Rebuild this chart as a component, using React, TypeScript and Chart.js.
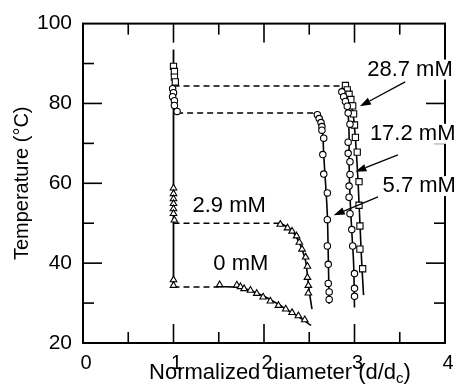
import React, { useEffect, useRef } from "react";
import { Chart, registerables } from "chart.js";
Chart.register(...registerables);

// ---------- data ----------
const seriesNames = ["0 mM", "2.9 mM", "5.7 mM", "17.2 mM", "28.7 mM"];

// 0 mM (triangles)
const s0X = [1.0, 1.0, 1.51, 1.70, 1.74, 1.78, 1.85, 1.92, 1.99, 2.07, 2.16, 2.24, 2.31, 2.38, 2.45];
const s0Y = [35.8, 34.4, 34.6, 34.5, 34.1, 33.6, 33.2, 32.4, 31.5, 30.5, 29.4, 28.5, 27.6, 26.8, 25.8];
const fit0X = [1.5, 1.7, 1.8, 1.9, 2.0, 2.1, 2.2, 2.3, 2.4, 2.52];
const fit0Y = [34.1, 34.0, 33.5, 32.7, 31.7, 30.5, 29.1, 27.7, 26.3, 24.4];

// 2.9 mM (triangles)
const s29X = [1.0, 1.0, 1.0, 1.0, 1.0, 1.0, 1.01, 2.18, 2.26, 2.31, 2.36, 2.39, 2.42, 2.46, 2.48, 2.48, 2.49, 2.49];
const s29Y = [58.8, 57.4, 56.1, 54.9, 53.6, 52.4, 50.8, 49.7, 48.8, 48.0, 46.8, 45.2, 43.5, 41.5, 39.2, 36.4, 34.4, 32.5];
const fit29X = [2.18, 2.26, 2.32, 2.37, 2.42, 2.46, 2.48, 2.5, 2.53];
const fit29Y = [50.0, 49.0, 47.8, 46.0, 43.5, 40.5, 37.0, 33.0, 28.5];

// 5.7 mM (circles)
const s57X = [0.99, 1.0, 0.99, 1.01, 1.01, 1.04, 2.59, 2.61, 2.63, 2.64, 2.64, 2.66, 2.65, 2.66, 2.70, 2.70, 2.70, 2.71, 2.71, 2.72, 2.72];
const s57Y = [83.7, 82.7, 81.7, 80.7, 79.5, 78.0, 77.2, 76.2, 75.2, 74.2, 73.3, 71.3, 67.2, 62.3, 57.6, 50.9, 44.3, 39.7, 34.9, 32.8, 30.9];
const fit57X = [2.55, 2.6, 2.63, 2.65, 2.66, 2.68, 2.7, 2.71, 2.72];
const fit57Y = [77.6, 76.8, 75.0, 72.0, 67.0, 60.0, 52.0, 42.0, 29.8];

// 17.2 mM (circles)
const s172X = [2.86, 2.88, 2.90, 2.92, 2.93, 2.95, 2.93, 2.93, 2.95, 2.95, 2.94, 2.94, 2.95, 2.97, 2.98, 3.0, 3.0, 3.0];
const s172Y = [82.9, 81.7, 80.5, 79.3, 77.6, 74.8, 70.3, 67.5, 65.4, 62.2, 59.3, 56.5, 52.4, 48.4, 44.3, 37.4, 33.7, 31.7];
const fit172X = [2.86, 2.9, 2.93, 2.94, 2.94, 2.95, 2.97, 2.99, 3.0];
const fit172Y = [84.0, 80.8, 77.0, 72.0, 65.0, 57.0, 48.0, 40.0, 28.9];

// 28.7 mM (squares)
const s287X = [1.0, 1.01, 1.01, 1.02, 2.90, 2.92, 2.94, 2.96, 2.98, 2.99, 3.0, 3.01, 3.03, 3.05, 3.05, 3.06, 3.06, 3.09];
const s287Y = [89.3, 88.0, 86.6, 85.4, 84.5, 83.4, 82.3, 81.0, 79.4, 77.4, 74.6, 71.5, 67.8, 60.4, 54.5, 49.3, 43.5, 38.6];
const fit287X = [2.9, 2.94, 2.98, 3.0, 3.02, 3.04, 3.06, 3.08, 3.1];
const fit287Y = [84.5, 82.0, 78.0, 74.0, 68.0, 60.0, 50.0, 40.0, 32.0];

// vertical line at d/dc = 1
const vertX = [1.0, 1.0];
const vertY = [93.5, 34.0];

// dashed horizontal jumps
const dashY = [84.4, 77.6, 50.0, 34.0];
const dashX0 = [1.0, 1.04, 1.0, 1.0];
const dashX1 = [2.89, 2.57, 2.18, 1.5];

// axis ticks
const xMajor = [1, 2, 3];
const xMinor = [0.5, 1.5, 2.5, 3.5];
const yMajor = [40, 60, 80];
const yMinor = [30, 50, 70, 90];

// annotation labels (data coords of left/middle anchor)
const labelText = ["28.7 mM", "17.2 mM", "5.7 mM", "2.9 mM", "0 mM"];
const labelX = [3.14, 3.17, 3.31, 1.21, 1.44];
const labelY = [88.5, 72.4, 59.3, 54.4, 39.8];

// arrows (from -> to, data coords)
const arrowX0 = [3.56, 3.48, 3.26];
const arrowY0 = [85.4, 67.1, 56.6];
const arrowX1 = [3.06, 3.01, 2.77];
const arrowY1 = [79.3, 62.9, 52.0];

const FONT = '"Liberation Sans", Arial, Helvetica, sans-serif';

const zip = (xs: number[], ys: number[]) => xs.map((x, i) => ({ x, y: ys[i] }));

const decorPlugin = {
  id: "decor",
  afterDraw(chart: any) {
    const { ctx, chartArea: a, scales } = chart;
    const x = scales.x;
    const y = scales.y;
    const line = (x0: number, y0: number, x1: number, y1: number) => {
      ctx.beginPath();
      ctx.moveTo(x0, y0);
      ctx.lineTo(x1, y1);
      ctx.stroke();
    };
    ctx.save();
    ctx.strokeStyle = "#000";
    ctx.fillStyle = "#000";
    // frame
    ctx.lineWidth = 2;
    ctx.strokeRect(a.left, a.top, a.right - a.left, a.bottom - a.top);
    // inward ticks
    ctx.lineWidth = 1.6;
    const MAJ = 19;
    const MIN = 11;
    xMajor.forEach((v) => {
      const p = x.getPixelForValue(v);
      line(p, a.bottom, p, a.bottom - MAJ);
      line(p, a.top, p, a.top + MAJ);
    });
    xMinor.forEach((v) => {
      const p = x.getPixelForValue(v);
      line(p, a.bottom, p, a.bottom - MIN);
      line(p, a.top, p, a.top + MIN);
    });
    yMajor.forEach((v) => {
      const p = y.getPixelForValue(v);
      line(a.left, p, a.left + MAJ, p);
      line(a.right, p, a.right - MAJ, p);
    });
    yMinor.forEach((v) => {
      const p = y.getPixelForValue(v);
      line(a.left, p, a.left + MIN, p);
      line(a.right, p, a.right - MIN, p);
    });

    // annotation labels with white backing (frame is broken behind them)
    ctx.font = `22px ${FONT}`;
    ctx.textAlign = "left";
    ctx.textBaseline = "middle";
    labelText.forEach((t, i) => {
      const px = x.getPixelForValue(labelX[i]);
      const py = y.getPixelForValue(labelY[i]);
      const w = ctx.measureText(t).width;
      ctx.fillStyle = "#fff";
      ctx.fillRect(px - 2, py - 10, w + 4, 20);
      ctx.fillStyle = "#000";
      ctx.fillText(t, px, py);
    });

    // arrows
    ctx.lineWidth = 1.3;
    arrowX0.forEach((_, i) => {
      const x0 = x.getPixelForValue(arrowX0[i]);
      const y0 = y.getPixelForValue(arrowY0[i]);
      const x1 = x.getPixelForValue(arrowX1[i]);
      const y1 = y.getPixelForValue(arrowY1[i]);
      const ang = Math.atan2(y1 - y0, x1 - x0);
      const L = 11;
      const W = 3.8;
      const bx = x1 - L * Math.cos(ang);
      const by = y1 - L * Math.sin(ang);
      line(x0, y0, bx, by);
      ctx.beginPath();
      ctx.moveTo(x1, y1);
      ctx.lineTo(bx + W * Math.sin(ang), by - W * Math.cos(ang));
      ctx.lineTo(bx - W * Math.sin(ang), by + W * Math.cos(ang));
      ctx.closePath();
      ctx.fill();
    });

    // x title with subscript
    const main = "Normalized diameter (d/d";
    ctx.font = `22px ${FONT}`;
    const w1 = ctx.measureText(main).width;
    ctx.font = `15px ${FONT}`;
    const w2 = ctx.measureText("c").width;
    ctx.font = `22px ${FONT}`;
    const w3 = ctx.measureText(")").width;
    const total = w1 + w2 + w3;
    const cx = 280;
    const base = 379;
    let sx = cx - total / 2;
    ctx.textAlign = "left";
    ctx.textBaseline = "alphabetic";
    ctx.fillText(main, sx, base);
    sx += w1;
    ctx.font = `15px ${FONT}`;
    ctx.fillText("c", sx, base + 4);
    sx += w2;
    ctx.font = `22px ${FONT}`;
    ctx.fillText(")", sx, base);

    // y title
    ctx.save();
    ctx.translate(22, (a.top + a.bottom) / 2);
    ctx.rotate(-Math.PI / 2);
    ctx.font = `20px ${FONT}`;
    ctx.textAlign = "center";
    ctx.textBaseline = "middle";
    ctx.fillText("Temperature (\u00B0C)", 0, 0);
    ctx.restore();

    ctx.restore();
  },
};

export default function App() {
  const ref = useRef<HTMLCanvasElement | null>(null);
  useEffect(() => {
    document.body.style.margin = "0";
    if (!ref.current) return;
    const fitStyle = {
      showLine: true,
      borderColor: "#000",
      borderWidth: 1.6,
      pointRadius: 0,
      tension: 0.35,
      order: 2,
    };
    const ptStyle = (style: string, r: number) => ({
      showLine: false,
      pointStyle: style,
      pointRadius: r,
      pointBackgroundColor: "#fff",
      pointBorderColor: "#000",
      pointBorderWidth: 1.1,
      order: 0,
    });
    const datasets: any[] = [
      { label: "vertical", data: zip(vertX, vertY), showLine: true, borderColor: "#000", borderWidth: 1.8, pointRadius: 0, order: 3 },
      ...dashY.map((v, i) => ({
        label: "dash" + i,
        data: [
          { x: dashX0[i], y: v },
          { x: dashX1[i], y: v },
        ],
        showLine: true,
        borderColor: "#000",
        borderWidth: 1.5,
        borderDash: [6, 4],
        pointRadius: 0,
        order: 3,
      })),
      { label: seriesNames[0] + " fit", data: zip(fit0X, fit0Y), ...fitStyle },
      { label: seriesNames[1] + " fit", data: zip(fit29X, fit29Y), ...fitStyle },
      { label: seriesNames[2] + " fit", data: zip(fit57X, fit57Y), ...fitStyle },
      { label: seriesNames[3] + " fit", data: zip(fit172X, fit172Y), ...fitStyle },
      { label: seriesNames[4] + " fit", data: zip(fit287X, fit287Y), ...fitStyle },
      { label: seriesNames[0], data: zip(s0X, s0Y), ...ptStyle("triangle", 3.8) },
      { label: seriesNames[1], data: zip(s29X, s29Y), ...ptStyle("triangle", 3.8) },
      { label: seriesNames[2], data: zip(s57X, s57Y), ...ptStyle("circle", 3.2) },
      { label: seriesNames[3], data: zip(s172X, s172Y), ...ptStyle("circle", 3.2) },
      { label: seriesNames[4], data: zip(s287X, s287Y), ...ptStyle("rect", 4.4) },
    ];
    const chart = new Chart(ref.current, {
      type: "scatter",
      data: { datasets },
      options: {
        responsive: false,
        animation: false,
        layout: { padding: { top: 15, right: 18, left: 0, bottom: 0 } },
        plugins: { legend: { display: false }, tooltip: { enabled: false } },
        scales: {
          x: {
            type: "linear",
            min: 0,
            max: 4,
            grid: { display: false, drawTicks: false },
            border: { display: false },
            afterFit: (s: any) => {
              s.height = 49;
            },
            ticks: {
              stepSize: 1,
              color: "#000",
              padding: 8,
              labelOffset: 3,
              autoSkip: false,
              maxRotation: 0,
              font: { family: FONT, size: 20 },
            },
          },
          y: {
            type: "linear",
            min: 20,
            max: 100,
            grid: { display: false, drawTicks: false },
            border: { display: false },
            afterFit: (s: any) => {
              s.width = 83;
            },
            ticks: {
              stepSize: 20,
              color: "#000",
              padding: 11,
              autoSkip: false,
              font: { family: FONT, size: 21 },
            },
          },
        },
      },
      plugins: [decorPlugin],
    });
    return () => chart.destroy();
  }, []);
  return (
    <div style={{ width: 463, height: 392 }}>
      <canvas ref={ref} width={463} height={392} style={{ display: "block", width: 463, height: 392 }} />
    </div>
  );
}
